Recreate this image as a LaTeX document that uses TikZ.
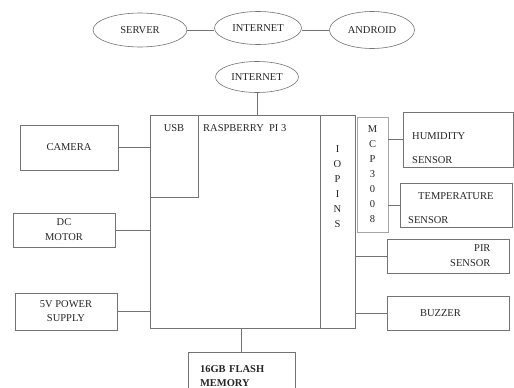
\documentclass[tikz,border=0pt]{standalone}
\usepackage{fontspec}
\setmainfont{Liberation Serif}
\usetikzlibrary{shapes.geometric,positioning,calc}

\begin{document}
\begin{tikzpicture}[x=1pt,y=-1pt,
  font=\fontsize{10.5}{12}\selectfont,
  blk/.style={draw=black!55,line width=0.6pt,rectangle,inner sep=0pt,text=black!85},
  oval/.style={draw=black!55,line width=0.6pt,ellipse,inner sep=0pt,text=black!85},
  wire/.style={draw=black!55,line width=0.6pt},
  txt/.style={text=black!85,inner sep=0pt},
  vtxt/.style={align=center,text=black!85,inner sep=0pt,font=\fontsize{10.5}{15}\selectfont}]
\path[use as bounding box,fill=white] (0,0) rectangle (514,388);
% ---------- top: cloud link ----------
\node[oval,minimum width=94,minimum height=34] (server) at (140,30) {SERVER};
\node[oval,minimum width=87,minimum height=33] (inet) at (258,28) {INTERNET};
\node[oval,minimum width=85,minimum height=37] (android) at (372,30) {ANDROID};
\draw[wire] (server.east) -- (server.east -| inet.west);
\draw[wire] (android.west -| inet.east) -- (android.west);
% ---------- raspberry pi board ----------
\node[oval,minimum width=83,minimum height=31] (inetpi) at (257,77) {INTERNET};
\node[blk,minimum width=205,minimum height=213] (rpi) at (252.5,221.5) {};
\node[blk,anchor=north west,minimum width=48,minimum height=82] (usb) at (rpi.north west) {};
\node[blk,anchor=north east,minimum width=35,minimum height=213] (iopins) at (rpi.north east) {};
\node[txt] (usbtxt) at (174,128) {USB};
\node[txt,anchor=west] (rpitxt) at (203,128) {RASPBERRY\ \ PI 3};
\node[vtxt] (iotxt) at (337.5,186.5) {I\\O\\P\\I\\N\\S};
\node[blk,draw=black!35,minimum width=31,minimum height=115,vtxt] (mcp) at (372.5,174.5) {M\\C\\P\\3\\0\\0\\8};
\draw[wire] (inetpi.south) -- (inetpi.south |- rpi.north);
\draw[wire] ($(mcp.north west)!0.27!(mcp.south west)$) -- ($(mcp.north west)!0.27!(mcp.south west)$ -| iopins.east);
% ---------- left side ----------
\node[blk,minimum width=98,minimum height=45] (camera) at (69,147.5) {CAMERA};
\node[blk,minimum width=102,minimum height=34,align=center] (motor) at (64,230) {DC\\[3pt]MOTOR};
\node[blk,minimum width=102,minimum height=37,align=center] (power) at (66,311.5) {5V POWER\\[2pt]SUPPLY};
\draw[wire] (camera.east) -- (camera.east -| rpi.west);
\draw[wire] (motor.east) -- (motor.east -| rpi.west);
\draw[wire] (power.east) -- (power.east -| rpi.west);
% ---------- right side ----------
\node[blk,minimum width=110,minimum height=55] (humid) at (458,139.5) {};
\node[txt,anchor=west,align=left] (humtxt) at (412,148) {HUMIDITY\\[12pt]SENSOR};
\node[blk,minimum width=112,minimum height=44] (temp) at (456,205) {};
\node[txt,anchor=west,align=left] (temptxt) at (408,208) {\hspace*{10pt}TEMPERATURE\\[12pt]SENSOR};
\node[blk,minimum width=122,minimum height=34,align=right,text width=85,inner xsep=18.5] (pir) at (448,256) {PIR\\[3pt]SENSOR};
\node[blk,minimum width=122,minimum height=34,align=left,text width=56,inner xsep=33] (buzzer) at (448,313) {BUZZER};
\draw[wire] (mcp.east |- humid.west) -- (humid.west);
\draw[wire] (mcp.east |- temp.west) -- (temp.west);
\draw[wire] (pir.west -| iopins.east) -- (pir.west);
\draw[wire] (buzzer.west -| iopins.east) -- (buzzer.west);
% ---------- storage ----------
\node[blk,minimum width=107,minimum height=48,align=left,text width=83,inner xsep=12,font=\fontsize{10.5}{14}\selectfont\bfseries] (flash) at (241.5,376) {16GB FLASH\\MEMORY};
\draw[wire] (flash.north) -- (flash.north |- rpi.south);
\end{tikzpicture}
\end{document}
